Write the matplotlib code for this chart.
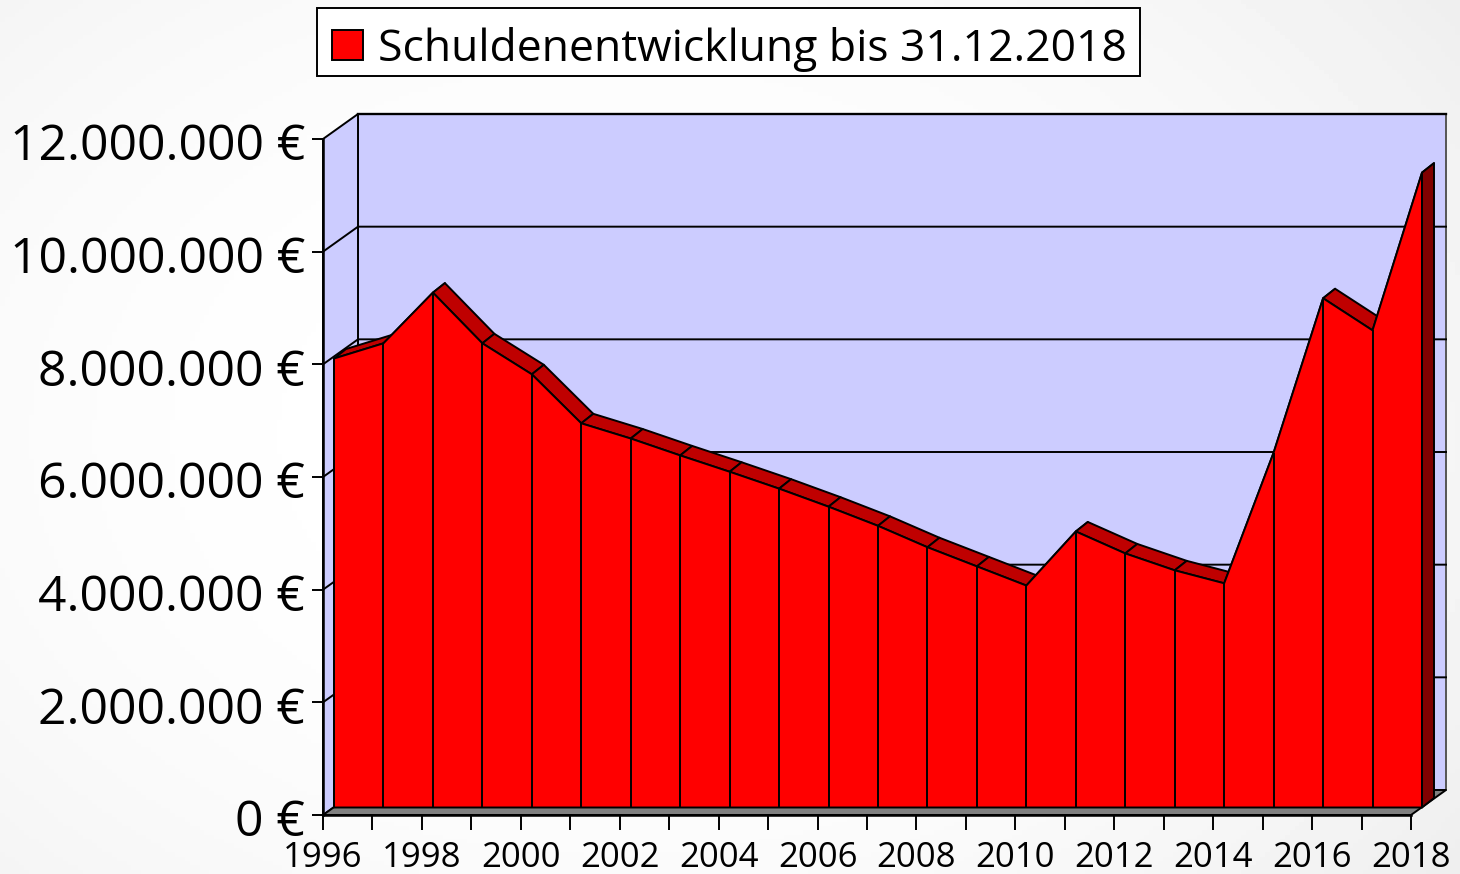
import numpy as np
import matplotlib
matplotlib.use('Agg')
import matplotlib.pyplot as plt
from matplotlib.patches import Polygon, Patch, Rectangle
from matplotlib.transforms import ScaledTranslation

# values in million euro
years = list(range(1996, 2019))
debt = [7.97, 8.24, 9.14, 8.24, 7.69, 6.82, 6.55, 6.25, 5.96, 5.66, 5.34, 5.00,
        4.62, 4.28, 3.94, 4.90, 4.51, 4.21, 3.98, 6.30, 9.04, 8.47, 11.27]
y_ticks = [0, 2, 4, 6, 8, 10, 12]
y_labels = ['0 €', '2.000.000 €', '4.000.000 €', '6.000.000 €', '8.000.000 €',
            '10.000.000 €', '12.000.000 €']
legend_label = 'Schuldenentwicklung bis 31.12.2018'

W, H = 1460, 874
L, R, T, B = 323, 1411, 139, 815  # front plane of the plot in pixels
px_x = (R - L) / (years[-1] - years[0])
px_y = (B - T) / y_ticks[-1]

# 3d depth offsets (pixels converted to data units)
def depth(dx, dy):
    return dx / px_x, dy / px_y

WALL_X, WALL_Y = depth(35, 25)
FRONT_X, FRONT_Y = depth(11, 7.5)
SIDE_X, SIDE_Y = depth(12, 9.5)

LINE = 1.4
plt.rcParams['font.family'] = ['Open Sans', 'DejaVu Sans']

fig = plt.figure(figsize=(W / 100, H / 100), dpi=100)

# pale slide background
bg = fig.add_axes([0, 0, 1, 1], zorder=0)
yy, xx = np.mgrid[0:1:200j, 0:1:300j]
shade = np.hypot((xx - 0.42) / 0.75, (yy - 0.5) / 0.9)
bg.imshow(1 - 0.075 * np.clip(shade, 0, 1) ** 2.5, cmap='gray', vmin=0, vmax=1,
          aspect='auto', extent=[0, 1, 0, 1])
bg.axis('off')

ax = fig.add_axes([L / W, 1 - B / H, (R - L) / W, (B - T) / H], zorder=1)
ax.patch.set_visible(False)
ax.set_xlim(years[0], years[-1])
ax.set_ylim(y_ticks[0], y_ticks[-1])
for s in ax.spines.values():
    s.set_visible(False)

x0, x1 = years[0], years[-1]
y0, y1 = y_ticks[0], y_ticks[-1]


def poly(pts, fc, z, ec='black', lw=LINE):
    ax.add_patch(Polygon(pts, closed=True, facecolor=fc, edgecolor=ec, linewidth=lw,
                         joinstyle='round', clip_on=False, zorder=z))


# walls and floor
poly([(x0 + WALL_X, y0 + WALL_Y), (x1 + WALL_X, y0 + WALL_Y),
      (x1 + WALL_X, y1 + WALL_Y), (x0 + WALL_X, y1 + WALL_Y)], '#CCCCFF', 1, ec='#555555')
poly([(x0, y0), (x0 + WALL_X, y0 + WALL_Y), (x0 + WALL_X, y1 + WALL_Y), (x0, y1)], '#CCCCFF', 1.1)
poly([(x0, y0), (x0 + WALL_X, y0 + WALL_Y), (x1 + WALL_X, y0 + WALL_Y), (x1, y0)], '#808080', 1.2)
ax.plot([x0 + WALL_X, x1 + WALL_X], [y1 + WALL_Y, y1 + WALL_Y], color='black', lw=LINE * 1.2,
        clip_on=False, zorder=1.3)

# gridlines on the back wall and the left side wall
for t in y_ticks[1:-1]:
    ax.plot([x0, x0 + WALL_X, x1 + WALL_X], [t, t + WALL_Y, t + WALL_Y], color='black', lw=LINE,
            clip_on=False, zorder=1.5)

# area: top strips, right side and front face
xs = np.array(years) + FRONT_X
ys = np.array(debt) + FRONT_Y
base = y0 + FRONT_Y
for i in range(len(xs) - 1):
    poly([(xs[i], ys[i]), (xs[i + 1], ys[i + 1]), (xs[i + 1] + SIDE_X, ys[i + 1] + SIDE_Y),
          (xs[i] + SIDE_X, ys[i] + SIDE_Y)], '#BF0000', 2)
poly([(xs[-1], base), (xs[-1] + SIDE_X, base + SIDE_Y), (xs[-1] + SIDE_X, ys[-1] + SIDE_Y),
      (xs[-1], ys[-1])], '#800000', 2)
poly(list(zip(xs, ys)) + [(xs[-1], base), (xs[0], base)], '#FF0000', 3)
ax.vlines(xs, base, ys, color='black', lw=LINE, zorder=3.1, clip_on=False)

# axes ticks
ax.set_yticks(y_ticks)
ax.set_yticklabels(y_labels, fontsize=35.8)
ax.set_xticks(years)
ax.set_xticklabels([str(y) if (y - years[0]) % 2 == 0 else '' for y in years], fontsize=25)
ax.tick_params(axis='y', length=8, width=LINE, pad=5)
ax.tick_params(axis='x', length=11, width=LINE, pad=8)
down = ScaledTranslation(0, -2.5 / 100, fig.dpi_scale_trans)
for lab in ax.get_yticklabels():
    lab.set_transform(lab.get_transform() + down)
ax.plot([x0, x1], [y0, y0], color='black', lw=LINE * 1.3, clip_on=False, zorder=1.4)
ax.plot([x0, x0], [y0, y1], color='black', lw=LINE * 1.3, clip_on=False, zorder=1.4)

# legend box drawn apart, its text sits low in the frame
fig.add_artist(Rectangle((317 / W, 1 - 76 / H), 823 / W, 68 / H, transform=fig.transFigure,
                         facecolor='white', edgecolor='black', linewidth=LINE, zorder=0.5))
leg = ax.legend(handles=[Patch(facecolor='#FF0000', edgecolor='black', linewidth=LINE, label=legend_label)],
                loc='center', bbox_to_anchor=(729.5 / W, 1 - 49 / H), bbox_transform=fig.transFigure,
                fontsize=32, frameon=False, handlelength=0.68, handleheight=0.68, handletextpad=0.34,
                borderpad=0.28, borderaxespad=0)

fig.savefig('out.png', dpi=100)
